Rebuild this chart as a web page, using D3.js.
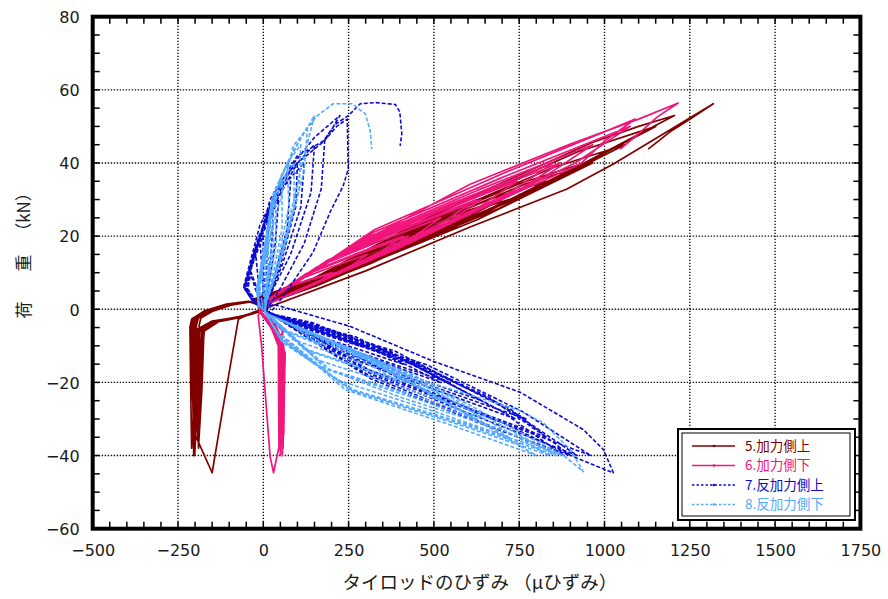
<!DOCTYPE html>
<html><head><meta charset="utf-8">
<script src="https://cdn.jsdelivr.net/npm/d3@7"></script>
<style>
html,body{margin:0;padding:0;background:#fff;}
svg{display:block;}
</style></head>
<body><svg id="c" width="888" height="599"></svg>
<script>
const xTicks = [-500,-250,0,250,500,750,1000,1250,1500,1750];
const yTicks = [-60,-40,-20,0,20,40,60,80];
const gridX = [-250,0,250,500,750,1000,1250,1500];
const gridY = [-40,-20,0,20,40,60];
const seriesNames = ["5.加力側上","6.加力側下","7.反加力側上","8.反加力側下"];
const seriesColors = ["#800000","#f0167c","#0b0bd2","#55aaff"];
const seriesDash = [null,null,"4,2","4,2"];
const xTitle = "タイロッドのひずみ （μひずみ）";
const yTitleParts = ["荷","重","（kN）"];

// [strain (μ), load (kN)] in drawing order
const series5 = [
[-25,2.2],[70,3.7],[153,6.5],[235,10],[188,8.6],[106,5.7],[0,0.8],
[-40,2],[-100,1.2],[-160,-0.5],[-203,-2.5],[-208,-4.5],[-206,-7],[-204,-10],[-195,-5.5],[-150,-3.2],[-80,-2.2],[-20,-0.8],[0,0],
[-25,2.2],[74,3.7],[159,6.5],[245,10],[196,8.6],[110,5.7],[0,0.8],
[-40,2],[-100,1.3],[-165,-0.6],[-207,-2.6],[-212,-4.6],[-210,-7.5],[-209,-10],[-198,-5.6],[-145,-3.3],[-75,-2.1],[-18,-0.7],[0,0],
[-26,2.2],[105,5.1],[228,9.5],[350,15],[280,12.9],[158,8.3],[0,0.8],
[-38,2],[-95,1.1],[-150,-0.6],[-183,-2.4],[-188,-4.4],[-186,-9],[-184,-15],[-176,-9],[-172,-5.2],[-125,-3],[-60,-1.9],[-12,-0.6],[0,0],
[-28,2.3],[141,6.4],[306,12.5],[470,20],[376,17.2],[212,10.9],[0,0.9],
[-42,2.1],[-105,1.3],[-168,-0.4],[-209,-2.6],[-214,-4.8],[-212,-12],[-210,-20],[-203,-12],[-197,-5.8],[-140,-3.4],[-70,-2.2],[-15,-0.8],[0,0],
[-28,2.3],[146,6.4],[315,12.5],[485,20],[388,17.2],[218,10.9],[0,0.9],
[-40,2.0],[-100,1.2],[-160,-0.5],[-200,-2.4],[-205,-4.4],[-203,-12],[-200,-20],[-193,-12],[-188,-5.6],[-135,-3.2],[-68,-2.0],[-15,-0.8],[0,0],
[-29,2.3],[177,7.8],[384,15.5],[590,25],[472,21.5],[266,13.5],[0,1],
[-42,2.1],[-106,1.4],[-170,-0.4],[-208,-2.7],[-212,-4.8],[-210,-15],[-207,-25],[-200,-14],[-194,-5.8],[-142,-3.5],[-72,-2.3],[-16,-0.8],[0,0],
[-30,2.4],[210,9.1],[455,18.5],[700,30],[560,25.8],[315,16.1],[0,1.0],
[-42,2.1],[-105,1.3],[-165,-0.5],[-205,-2.6],[-210,-4.6],[-207,-17],[-204,-30],[-196,-17],[-190,-6],[-138,-3.5],[-70,-2.3],[-15,-0.8],[0,0],
[-30,2.4],[216,9.1],[468,18.5],[720,30],[576,25.8],[324,16.1],[0,1.0],
[-38,2.0],[-98,1.1],[-155,-0.6],[-195,-2.5],[-200,-4.4],[-197,-17],[-194,-30],[-186,-17],[-180,-5.5],[-130,-3.2],[-65,-2.0],[-12,-0.7],[0,0],
[-31,2.4],[249,10.4],[540,21.5],[830,35],[664,30.1],[374,18.7],[0,1.1],
[-40,2],[-98,1.2],[-155,-0.5],[-193,-2.5],[-198,-4.5],[-196,-20],[-192,-35],[-183,-20],[-176,-5.8],[-130,-3.3],[-64,-2.1],[-13,-0.7],[0,0],
[-32,2.5],[282,11.8],[611,24.5],[940,40],[752,34.4],[423,21.3],[0,1.1],
[-42,2.1],[-105,1.3],[-165,-0.5],[-203,-2.6],[-208,-4.6],[-205,-22],[-201,-40],[-192,-22],[-186,-6],[-136,-3.4],[-70,-2.2],[-15,-0.8],[0,0],
[-32,2.5],[290,11.8],[627,24.5],[965,40],[772,34.4],[434,21.3],[0,1.1],
[-38,2.0],[-96,1.1],[-150,-0.6],[-190,-2.4],[-196,-4.4],[-193,-22],[-190,-38],[-180,-22],[-174,-6],[-128,-3.2],[-62,-2.0],[-12,-0.7],[0,0],
[-33,2.5],[318,13.2],[689,27.5],[1060,45],[848,38.7],[477,23.9],[0,1.2],
[-44,2.2],[-108,1.4],[-172,-0.4],[-210,-2.7],[-215,-4.9],[-213,-20],[-210,-38],[-201,-20],[-195,-6],[-142,-3.5],[-72,-2.3],[-16,-0.8],[0,0],
[-34,2.6],[345,14.5],[748,30.5],[1150,50],[920,43],[518,26.5],[0,1.2],
[-42,2.1],[-105,1.3],[-168,-0.5],[-205,-2.6],[-210,-4.7],[-207,-22],[-204,-40],[-195,-22],[-188,-6],[-138,-3.4],[-70,-2.2],[-15,-0.8],[0,0],
[-34,2.6],[362,15.3],[783,32.3],[1205,53],[1100,50],[964,45.6],[542,28],[0,1.2],
[-40,2.0],[-100,1.2],[-160,-0.5],[-200,-2.5],[-206,-4.6],[-203,-20],[-198,-34.7],[-150,-44.7],[-120,-28],[-73,-2.7],[-30,-0.8],[0,0],
[300,10.5],[606,22.5],[890,32.9],[1026,39.7],[1200,49.5],[1319,56.2],[1251,52],[1192,48.5],[1128,43.8]
];

const series6 = [
[-15,0.5],[60,5.8],[130,8],[200,10],[170,8],[90,4.5],[0,1],
[-8,-0.5],[25,-4],[48,-8],[52,-10],[58,-6],[25,-2],[0,0],
[-15,0.5],[63,5.8],[137,8],[210,10],[179,8],[95,4.5],[0,1],
[-10,-0.6],[22,-4],[46,-8],[50,-10],[56,-6],[22,-2],[0,0],
[-15,0.5],[92,7.7],[198,11.5],[305,15],[259,12],[137,6.5],[0,1],
[-9,-0.5],[24,-4],[44,-8.5],[47,-15],[55,-8],[24,-2.2],[0,0],
[-15,0.5],[123,9.6],[267,15],[410,20],[349,16],[185,8.5],[0,1],
[-10,-0.5],[25,-4],[50,-9],[54,-20],[60,-10],[25,-2.5],[0,0],
[-15,0.5],[128,9.6],[276,15],[425,20],[361,16],[191,8.5],[0,1],
[-12,-0.5],[22,-4],[48,-9],[52,-20],[58,-10],[22,-2.5],[0,0],
[-15,0.5],[156,11.5],[338,18.5],[520,25],[442,20],[234,10.5],[0,1],
[-11,-0.5],[24,-4.3],[50,-9],[53,-25],[61,-11],[25,-2.8],[0,0],
[-15,0.5],[188,13.4],[406,22],[625,30],[531,24],[281,12.5],[0,1],
[-10,-0.5],[25,-4.5],[52,-9],[56,-30],[62,-12],[26,-3],[0,0],
[-15,0.5],[192,13.4],[416,22],[640,30],[544,24],[288,12.5],[0,1],
[-12,-0.5],[22,-4.5],[45,-9],[50,-30],[58,-12],[22,-3],[0,0],
[-15,0.5],[224,15.3],[484,25.5],[745,35],[633,28],[335,14.5],[0,1],
[-10,-0.5],[26,-4.8],[54,-9.5],[57,-35],[64,-13],[27,-3],[0,0],
[-15,0.5],[255,17.2],[553,29],[850,40],[723,32],[383,16.5],[0,1],
[-10,-0.5],[25,-5],[55,-10],[58,-38],[64,-12],[28,-3],[0,0],
[-15,0.5],[261,17.2],[566,29],[870,40],[740,32],[392,16.5],[0,1],
[-12,-0.5],[22,-5],[48,-10],[50,-40],[60,-14],[24,-3],[0,0],
[-15,0.5],[290,19.1],[627,32.5],[965,45],[820,36],[434,18.5],[0,1],
[-12,-0.5],[23,-5],[44,-10],[46,-38],[59,-13],[23,-3],[0,0],
[-15,0.5],[322,21],[699,36],[1075,50],[914,40],[484,20.5],[0,1],
[-10,-0.5],[28,-5],[58,-10],[56,-40],[63,-14],[28,-3],[0,0],
[-15,0.5],[327,21.8],[709,37.4],[1090,52],[1000,46],[929,39.7],[491,21.3],[0,1],
[-15,-1.8],[-5,-10],[20,-40.3],[30,-44.7],[45,-38],[60,-34],[63,-12],[28,-3],[0,0],
[0,2],[300,19],[606,34.2],[900,45.2],[1100,52],[1216,56.4],[1155,52.6],[1100,48],[1046,43.8]
];

const series7 = [
[-20,2],[-45,5.5],[-38,10],[-25,6],[-5,1],
[10,-1],[140,-3.8],[280,-10],[196,-7.5],[98,-4.5],[0,0],
[-22,2],[-48,5.5],[-35,10],[-20,6],[-5,1],
[10,-1],[150,-3.8],[300,-10],[210,-7.5],[105,-4.5],[0,0],
[-22,2],[-50,5.5],[-38,11],[-22,15],[-15,8],[-2,1],
[10,-1],[205,-5.7],[410,-15],[287,-11.2],[144,-6.8],[0,0],
[-25,2],[-52,6],[-30,14],[-10,20],[-5,12],[0,3],
[10,-1],[260,-7.6],[520,-20],[364,-15],[182,-9],[0,0],
[-25,2],[-55,6],[-25,14],[0,20],[0,12],[5,3],
[10,-1],[272,-7.6],[545,-20],[381,-15],[191,-9],[0,0],
[-26,2],[-54,6],[-25,16],[15,25],[12,15],[3,3],
[10,-1],[320,-9.5],[640,-25],[448,-18.8],[224,-11.3],[0,0],
[-28,2],[-55,6],[-20,18],[30,30],[25,18],[10,4],
[10,-1],[370,-11.4],[740,-30],[518,-22.5],[259,-13.5],[0,0],
[-28,2],[-58,6],[-15,18],[45,30],[35,18],[12,4],
[10,-1],[385,-11.4],[770,-30],[539,-22.5],[270,-13.5],[0,0],
[-29,2],[-57,6],[-12,20],[40,33],[80,35],[70,22],[30,8],[12,3],
[10,-1],[415,-13.3],[660,-24],[830,-35],[581,-26.3],[290,-15.8],[0,0],
[-30,2],[-58,6],[-10,23],[60,36],[100,40],[95,28],[50,12],[15,3],
[10,-1],[440,-15.2],[700,-28],[880,-40],[616,-30],[308,-18],[0,0],
[-30,2],[-55,6],[0,23],[70,35],[120,40],[110,28],[55,12],[15,3],
[10,-1],[460,-15.2],[730,-28],[920,-40],[644,-30],[322,-18],[0,0],
[-30,2],[-56,6],[5,24],[80,38],[150,45],[140,32],[80,15],[15,3],
[10,-1],[450,-15.2],[720,-27],[900,-40],[630,-31],[315,-19],[0,0],
[-30,2],[-55,6],[10,25],[100,40],[176,45.8],[215,50],[246,52],[249,38.4],[234,33.7],[196,26.6],[146,15.6],[59,3.6],[29,0],
[10,-1],[480,-15.2],[760,-28],[960,-40],[672,-30],[336,-18],[0,0],
[-30,2],[-52,6],[15,27],[90,40],[150,47],[200,51],[225,53],[180,46],[170,33],[120,18],[40,4],[10,0],
[29,1.4],[255,-4.7],[498,-14.2],[753,-22.7],[938,-32.9],[997,-38.4],[1026,-44.7],[979,-43],[909,-40.3],[700,-31],[400,-19],[150,-7],[0,0],
[-30,2],[-50,6],[20,30],[100,42],[176,46],[210,50.5],[250,53],[284,56.2],[330,56.5],[387,56],[400,54],[406,48],[401,44.7]
];

const series8 = [
[-10,1],[-18,5],[-5,10],[0,5],[5,1],
[5,-1],[85,-4.5],[170,-10],[119,-8],[51,-5.5],[0,0],
[-12,1],[-20,5],[-2,10],[2,5],[5,1],
[5,-1],[93,-4.5],[185,-10],[130,-8],[56,-5.5],[0,0],
[-11,1],[-19,5],[-3,11],[5,15],[6,8],[5,1],
[5,-1],[145,-6.8],[290,-15],[203,-12],[87,-8.3],[0,0],
[-12,1],[-20,6],[0,14],[10,20],[12,10],[5,1],
[5,-1],[200,-9],[400,-20],[280,-16],[120,-11],[0,0],
[-14,1],[-18,6],[5,14],[15,20],[15,10],[5,1],
[5,-1],[210,-9],[420,-20],[294,-16],[126,-11],[0,0],
[-13,1],[-19,6],[3,16],[20,25],[22,14],[6,1.5],
[5,-1],[260,-11.3],[520,-25],[364,-20],[156,-13.8],[0,0],
[-14,1],[-18,6],[5,18],[25,30],[30,18],[8,2],
[5,-1],[310,-13.5],[620,-30],[434,-24],[186,-16.5],[0,0],
[-15,1],[-16,6],[10,18],[35,30],[38,18],[8,2],
[5,-1],[325,-13.5],[650,-30],[455,-24],[195,-16.5],[0,0],
[-15,1],[-16,6],[12,21],[40,33],[55,35],[55,22],[25,8],[8,2],
[5,-1],[360,-15.8],[720,-35],[504,-28],[216,-19.3],[40,-6],[0,0],
[-15,1],[-15,7],[15,24],[50,36],[70,40],[75,28],[40,12],[8,2],
[5,-1],[400,-18],[800,-40],[560,-32],[240,-22],[40,-6],[0,0],
[-15,1],[-12,7],[22,26],[60,36],[90,40],[90,28],[45,12],[8,2],
[5,-1],[420,-18],[840,-40],[588,-32],[252,-22],[45,-7],[0,0],
[-15,1],[-11,8],[22,28],[70,40],[110,45],[105,33],[52,14],[9,2],
[5,-1],[430,-18],[860,-40],[602,-32],[258,-22],[50,-8],[0,0],
[-15,1],[-10,8],[25,30],[80,42],[130,50],[120,38],[60,16],[10,2],
[5,-1],[440,-18],[880,-40],[616,-32],[264,-22],[55,-9],[0,0],
[-15,1],[-8,8],[30,32],[100,45],[150,53],[108,37.5],[60,18],[10,2],
[5,-1],[200,-9],[450,-19],[744,-27.4],[820,-31],[900,-38.4],[938,-44.4],[880,-40],[700,-33],[400,-24],[150,-15],[50,-8],[0,0],
[-12,6],[20,20],[50,30],[88,44.7],[158,52.9],[205,56.2],[260,56.2],[299,53.4],[313,49],[318,43.8]
];

const allSeries = [series5, series6, series7, series8];

const svg = d3.select("#c");
const x = d3.scaleLinear().domain([-500,1750]).range([92.7,860.4]);
const y = d3.scaleLinear().domain([-60,80]).range([528.7,16.7]);
const X0 = x(-500), X1 = x(1750), Y0 = y(80), Y1 = y(-60);

svg.append("rect").attr("width",888).attr("height",599).attr("fill","#fff");

// grid
const grid = svg.append("g").attr("stroke","#111").attr("stroke-width",1.4).attr("stroke-dasharray","1.4,1.6");
grid.selectAll("line.gx").data(gridX).join("line")
  .attr("x1",d=>x(d)).attr("x2",d=>x(d)).attr("y1",Y0).attr("y2",Y1);
grid.selectAll("line.gy").data(gridY).join("line")
  .attr("y1",d=>y(d)).attr("y2",d=>y(d)).attr("x1",X0).attr("x2",X1);

// clip
svg.append("defs").append("clipPath").attr("id","clip").append("rect")
  .attr("x",X0).attr("y",Y0).attr("width",X1-X0).attr("height",Y1-Y0);

const line = d3.line().x(d=>x(d[0])).y(d=>y(d[1]));
const plot = svg.append("g").attr("clip-path","url(#clip)");
allSeries.forEach((s,i)=>{
  plot.append("path").datum(s).attr("d",line)
    .attr("fill","none").attr("stroke",seriesColors[i]).attr("stroke-width",i<2 ? 1.7 : 1.6)
    .attr("stroke-linejoin","round")
    .attr("stroke-dasharray",seriesDash[i]);
});

// minor ticks
const tk = svg.append("g").attr("stroke","#000").attr("stroke-width",1.5);
const xMinor = d3.range(-500,1751,50);
const yMinor = d3.range(-60,81,5);
tk.selectAll("line.xb").data(xMinor).join("line").attr("x1",d=>x(d)).attr("x2",d=>x(d)).attr("y1",Y1).attr("y2",Y1-7);
tk.selectAll("line.xt").data(xMinor).join("line").attr("x1",d=>x(d)).attr("x2",d=>x(d)).attr("y1",Y0).attr("y2",Y0+7);
tk.selectAll("line.yl").data(yMinor).join("line").attr("y1",d=>y(d)).attr("y2",d=>y(d)).attr("x1",X0).attr("x2",X0+7);
tk.selectAll("line.yr").data(yMinor).join("line").attr("y1",d=>y(d)).attr("y2",d=>y(d)).attr("x1",X1).attr("x2",X1-7);

// frame
svg.append("rect").attr("x",X0).attr("y",Y0).attr("width",X1-X0).attr("height",Y1-Y0)
  .attr("fill","none").attr("stroke","#000").attr("stroke-width",4);

// axis labels
const xAxis = svg.append("g").attr("transform",`translate(0,${Y1})`)
  .call(d3.axisBottom(x).tickValues(xTicks).tickSize(0).tickPadding(16).tickFormat(d3.format("d")));
const yAxis = svg.append("g").attr("transform",`translate(${X0},0)`)
  .call(d3.axisLeft(y).tickValues(yTicks).tickSize(0).tickPadding(13).tickFormat(d3.format("d")));
[xAxis,yAxis].forEach(a=>{
  a.select(".domain").remove();
  a.selectAll("text").attr("font-family","'DejaVu Sans', sans-serif").attr("font-size",16).attr("fill","#1a1a1a");
});
yAxis.selectAll("text").attr("dy","0.36em");

// titles
svg.append("text").attr("x",480).attr("y",589).attr("text-anchor","middle")
  .attr("font-family","'Noto Sans CJK JP', sans-serif").attr("font-size",18.5).attr("fill","#1a1a1a")
  .attr("xml:space","preserve")
  .text(xTitle);
const yPos = [310,263,212];
yTitleParts.forEach((t,i)=>{
  svg.append("text").attr("transform",`translate(24,${yPos[i]}) rotate(-90)`)
    .attr("text-anchor","middle").attr("dy","0.36em")
    .attr("font-family","'Noto Sans CJK JP', sans-serif").attr("font-size",17).attr("fill","#1a1a1a")
    .text(t);
});

// legend
const lg = svg.append("g");
lg.append("rect").attr("x",678).attr("y",429).attr("width",177).attr("height",91)
  .attr("fill","#fff").attr("stroke","#000").attr("stroke-width",2);
lg.append("rect").attr("x",682).attr("y",433).attr("width",168).attr("height",83)
  .attr("fill","none").attr("stroke","#000").attr("stroke-width",1);
const legY = [446,465.5,485,504.5];
seriesNames.forEach((n,i)=>{
  lg.append("line").attr("x1",692).attr("x2",735).attr("y1",legY[i]).attr("y2",legY[i])
    .attr("stroke",seriesColors[i]).attr("stroke-width",1.3).attr("stroke-dasharray",seriesDash[i] ? "2.5,2" : null);
  lg.append("circle").attr("cx",714).attr("cy",legY[i]).attr("r",1.3).attr("fill",seriesColors[i]);
  lg.append("text").attr("x",745).attr("y",legY[i]).attr("dy","0.36em")
    .attr("font-family","'Noto Sans CJK JP', sans-serif").attr("font-size",13.5)
    .attr("fill",seriesColors[i]).text(n);
});
</script>
</body></html>
